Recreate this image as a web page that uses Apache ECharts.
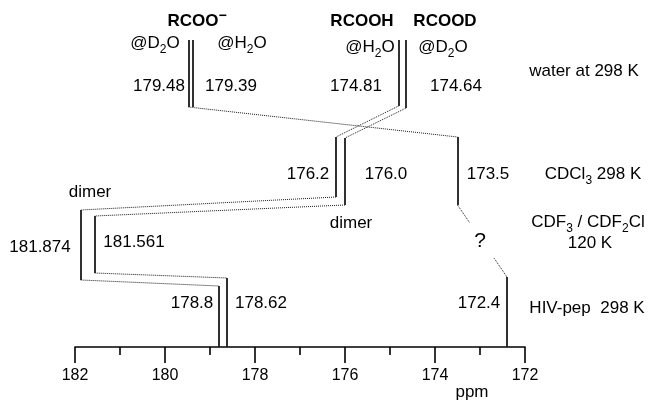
<!DOCTYPE html>
<html>
<head>
<meta charset="utf-8">
<script src="https://cdn.jsdelivr.net/npm/echarts@6/dist/echarts.min.js"></script>
<style>
  html, body { margin: 0; padding: 0; background: #fff; }
  #c { width: 652px; height: 400px; }
</style>
</head>
<body>
<div id="c"></div>
<script>
// 13C carboxyl chemical shifts (ppm) in each environment
// water at 298 K: RCOO− @D2O, RCOO− @H2O, RCOOH @H2O, RCOOD @D2O
const waterShifts = [179.48, 179.39, 174.81, 174.64];
const waterText   = ['179.48', '179.39', '174.81', '174.64'];
// CDCl3 at 298 K: dimer pair and the monomer
const cdcl3Shifts = [176.2, 176.0, 173.5];
const cdcl3Text   = ['176.2', '176.0', '173.5'];
// CDF3 / CDF2Cl at 120 K
const freonShifts = [181.874, 181.561];
const freonText   = ['181.874', '181.561'];
// HIV-pep at 298 K
const hivShifts = [178.8, 178.62, 172.4];
const hivText   = ['178.8', '178.62', '172.4'];
// ppm axis
const axisMin = 172;
const axisMax = 182;
const axisStep = 2;

const FONT = '"Liberation Sans", Arial, Helvetica, sans-serif';
const INK = '#000';

// vertical extent of each stem, in screen rows (the y axis runs 0..347 top-down)
const AXIS_Y = 347;
const rows = {
  water: { top: [40, 40, 40, 40],  bottom: [107, 107, 106, 108] },
  cdcl3: { top: [137, 138, 137],   bottom: [197, 205, 205] },
  freon: { top: [210, 216],        bottom: [280, 273] },
  hiv:   { top: [286, 278, 277],   bottom: [AXIS_Y, AXIS_Y, AXIS_Y] }
};
const groups = { water: waterShifts, cdcl3: cdcl3Shifts, freon: freonShifts, hiv: hivShifts };

const end = (key, i, which) => [groups[key][i], rows[key][which][i]];

// solid stems, one per shift
const stems = [];
Object.keys(groups).forEach(key => {
  groups[key].forEach((v, i) => stems.push({ coords: [end(key, i, 'top'), end(key, i, 'bottom')] }));
});

// dotted correlation links between environments
const linkPairs = [
  [['water', 0, 'bottom'], ['cdcl3', 2, 'top']],
  [['water', 2, 'bottom'], ['cdcl3', 0, 'top']],
  [['water', 3, 'bottom'], ['cdcl3', 1, 'top']],
  [['cdcl3', 0, 'bottom'], ['freon', 0, 'top']],
  [['cdcl3', 1, 'bottom'], ['freon', 1, 'top']],
  [['freon', 1, 'bottom'], ['hiv', 1, 'top']],
  [['freon', 0, 'bottom'], ['hiv', 0, 'top']]
];
const links = linkPairs.map(([a, b]) => ({ coords: [end(...a), end(...b)] }));
// monomer link is interrupted around the question mark
const qa = end('cdcl3', 2, 'bottom');
const qb = end('hiv', 2, 'top');
const along = t => [qa[0] + (qb[0] - qa[0]) * t, qa[1] + (qb[1] - qa[1]) * t];
links.push({ coords: [qa, along(0.25)] }, { coords: [along(0.74), qb] });

// text styling
const rich = {
  sub: { font: '12px ' + FONT, fill: INK, padding: [14, 0, 0, 0] },
  b:   { font: 'bold 17px ' + FONT, fill: INK },
  sup: { font: 'bold 14px ' + FONT, fill: INK, padding: [0, 0, 10, 0] },
  q:   { font: '21px ' + FONT, fill: INK }
};
function txt(x, y, text, align) {
  return {
    type: 'text', x: x, y: y, silent: true,
    style: {
      text: text, font: '17px ' + FONT, fill: INK, rich: rich,
      align: align || 'center', verticalAlign: 'middle',
      textAlign: align || 'center', textVerticalAlign: 'middle'
    }
  };
}

// label anchors (centres)
const waterLabelAt = [[159, 86], [231, 86], [356, 86], [456, 86]];
const cdcl3LabelAt = [[308, 174], [386, 174], [488, 174]];
const freonLabelAt = [[40, 247], [134, 242]];
const hivLabelAt   = [[192, 303], [261, 303], [479, 303]];

const texts = [
  txt(197, 21, '{b|RCOO}{sup|−}'),
  txt(362, 21, '{b|RCOOH}'),
  txt(445, 21, '{b|RCOOD}'),
  txt(155, 43, '@D{sub|2}O'),
  txt(242, 43, '@H{sub|2}O'),
  txt(370, 47, '@H{sub|2}O'),
  txt(443, 47, '@D{sub|2}O'),
  txt(584, 71, 'water at 298 K'),
  txt(593, 174, 'CDCl{sub|3} 298 K'),
  txt(90, 192, 'dimer'),
  txt(351, 223, 'dimer'),
  txt(588, 222, 'CDF{sub|3} / CDF{sub|2}Cl'),
  txt(590, 243, '120 K'),
  txt(480, 241, '{q|?}'),
  txt(587, 308, 'HIV-pep  298 K'),
  txt(472, 392, 'ppm')
];
waterShifts.forEach((v, i) => texts.push(txt(waterLabelAt[i][0], waterLabelAt[i][1], waterText[i])));
cdcl3Shifts.forEach((v, i) => texts.push(txt(cdcl3LabelAt[i][0], cdcl3LabelAt[i][1], cdcl3Text[i])));
freonShifts.forEach((v, i) => texts.push(txt(freonLabelAt[i][0], freonLabelAt[i][1], freonText[i])));
hivShifts.forEach((v, i) => texts.push(txt(hivLabelAt[i][0], hivLabelAt[i][1], hivText[i])));

const chart = echarts.init(document.getElementById('c'), null, { renderer: 'canvas' });
chart.setOption({
  animation: false,
  backgroundColor: '#fff',
  grid: { left: 75, right: 127, top: 0, bottom: 400 - AXIS_Y, containLabel: false },
  xAxis: {
    type: 'value', min: axisMin, max: axisMax, interval: axisStep, inverse: true,
    axisLine: { show: true, onZero: false, lineStyle: { color: INK, width: 1.6 } },
    axisTick: { show: true, inside: false, length: 16, lineStyle: { color: INK, width: 1.6 } },
    minorTick: { show: true, splitNumber: 2, length: 8, lineStyle: { color: INK, width: 1.6 } },
    splitLine: { show: false },
    minorSplitLine: { show: false },
    axisLabel: {
      color: INK, fontSize: 16, fontFamily: FONT, margin: 21,
      showMinLabel: true, showMaxLabel: true, hideOverlap: false
    }
  },
  yAxis: { type: 'value', min: 0, max: AXIS_Y, inverse: true, show: false },
  series: [
    {
      type: 'lines', coordinateSystem: 'cartesian2d', silent: true, z: 3,
      lineStyle: { color: '#1a1a1a', width: 1.8, opacity: 1, type: 'solid' },
      data: stems
    },
    {
      type: 'lines', coordinateSystem: 'cartesian2d', silent: true, z: 2,
      lineStyle: { color: '#1a1a1a', width: 1, opacity: 1, type: 'dotted' },
      data: links
    }
  ],
  graphic: { elements: texts }
});
</script>
</body>
</html>
